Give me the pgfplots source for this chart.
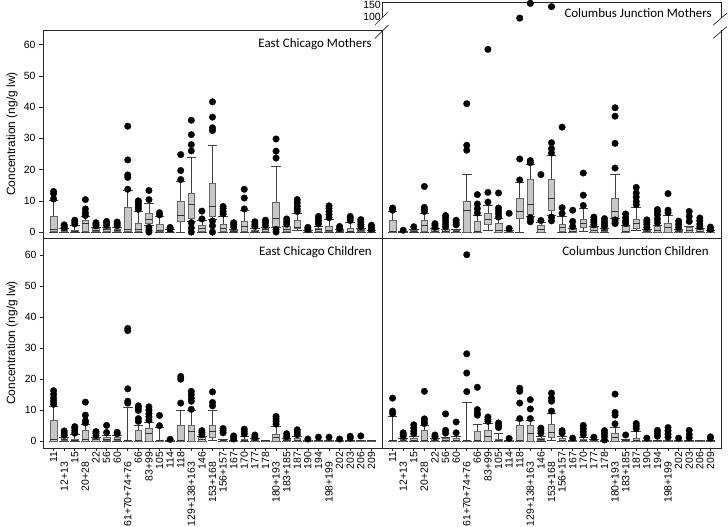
\documentclass[border=0pt]{standalone}
\usepackage{pgfplots}
\pgfplotsset{compat=1.18}
\usepgfplotslibrary{statistics}
\usepackage{fontspec}
\setmainfont{Liberation Sans}
\newfontfamily\calibri{Carlito}

\newcommand{\bx}[7]{\addplot[bstyle, boxplot prepared={draw direction=y, draw position=#1, lower whisker=#2, lower quartile=#3, median=#4, upper quartile=#5, upper whisker=#6, box extend=0.62, whisker extend=0.9, every box/.style={draw=black!60, fill=black!22}, every median/.style={draw=black!80}, every whisker/.style={draw=black!75}}] table[row sep=\\, y index=0] {d\\ #7};}
\newcommand{\bxn}[6]{\addplot[bstyle, boxplot prepared={draw direction=y, draw position=#1, lower whisker=#2, lower quartile=#3, median=#4, upper quartile=#5, upper whisker=#6, box extend=0.62, whisker extend=0.9, every box/.style={draw=black!60, fill=black!22}, every median/.style={draw=black!80}, every whisker/.style={draw=black!75}}] coordinates {};}

\tikzset{ttl/.style={anchor=north east, font=\calibri\fontsize{13}{15}\selectfont, inner sep=0pt}}
\pgfplotsset{
 bstyle/.style={line width=0.6pt, draw=black!75, mark=*, mark size=3.3bp,
   mark options={fill=black, draw=black, line width=0.3pt, solid}},
 panel/.style={scale only axis, width=339bp, xmin=-1, xmax=31, anchor=south west,
   axis line style={draw=black!85, line width=0.7pt},
   tick style={draw=black!85, line width=0.6pt}, tick align=outside,
   major tick length=4bp, ytick pos=left, xtick pos=bottom,
   every tick label/.append style={font=\fontsize{10.5}{12}\selectfont},
   /pgf/number format/assume math mode=true, clip=false},
 ylab/.style={ylabel={Concentration (ng/g lw)},
   ylabel style={font=\fontsize{12}{14}\selectfont, at={(axis description cs:-0.0914,0.5)}, anchor=center}},
 xlabs/.style={xtick={0,...,30}, major tick length=3bp,
   xticklabels={11, 12+13\hspace*{10bp}, 15, 20+28\hspace*{10bp}, 22, 56, 60, 61+70+74+76\hspace*{10bp}, 66, 83+99, 105, 114, 118, 129+138+163\hspace*{10bp}, 146, 153+168\hspace*{10bp}, 156+157, 167, 170, 177, 178, 180+193\hspace*{10bp}, 183+185, 187, 190, 194, 198+199\hspace*{10bp}, 202, 203, 206, 209},
   xticklabel style={rotate=90, anchor=east, inner sep=0.5bp}},
}

\begin{document}
\begin{tikzpicture}
\useasboundingbox (0,0) rectangle (728bp,527bp);

% ---------------- East Chicago Mothers ----------------
\begin{axis}[panel, ylab, at={(43bp,289bp)}, height=208bp, ymin=-1.9, ymax=64.7,
  ytick={0,10,...,60}, xtick=\empty]
\bx{0}{0}{0.2}{0.8}{5.2}{10.2}{10.6\\ 12.3\\ 13.0\\}
\bx{1}{0}{0.3}{0.6}{1.0}{1.2}{1.5\\ 2.0\\ 2.3\\}
\bx{2}{0}{0.2}{0.4}{0.6}{2.2}{2.6\\ 3.2\\ 3.8\\}
\bx{3}{0}{0.3}{2.8}{3.8}{4.9}{5.3\\ 6.2\\ 7.4\\ 10.4\\}
\bx{4}{0}{0.1}{0.6}{1.1}{1.5}{2.0\\ 2.5\\ 3.0\\}
\bx{5}{0}{0.2}{0.8}{1.3}{1.6}{2.2\\ 2.8\\ 3.4\\}
\bx{6}{0}{0.1}{0.5}{0.9}{1.5}{2.0\\ 2.6\\ 3.2\\}
\bx{7}{0}{0.3}{0.8}{8.0}{13.3}{13.7\\ 17.5\\ 18.3\\ 23.1\\ 33.9\\}
\bx{8}{0}{0.2}{0.8}{2.9}{6.8}{7.3\\ 8.0\\ 8.8\\ 9.6\\ 10.0\\}
\bx{9}{2.2}{2.8}{4.0}{6.0}{9.3}{10.4\\ 13.3\\ 1.5\\ 0.6\\ 0\\}
\bx{10}{0}{0.1}{0.5}{2.5}{5.1}{5.5\\ 6.2\\}
\bx{11}{0}{0.1}{0.2}{0.3}{0.8}{1.0\\ 1.5\\}
\bx{12}{0}{3.5}{5.5}{9.7}{16.2}{16.8\\ 19.7\\ 24.8\\}
\bx{13}{3.6}{4.3}{8.9}{12.4}{24.0}{26.0\\ 28.0\\ 31.2\\ 35.8\\ 3.0\\ 1.3\\ 0\\}
\bx{14}{0}{0.4}{1.1}{2.1}{3.7}{4.2\\ 6.7\\}
\bx{15}{4.0}{5.2}{8.2}{15.5}{27.8}{32.5\\ 33.4\\ 36.8\\ 41.7\\ 3.5\\ 2.0\\ 0\\}
\bx{16}{0}{0.1}{1.2}{2.6}{5.0}{5.8\\ 6.6\\ 7.5\\ 8.2\\}
\bx{17}{0}{0.1}{0.3}{0.6}{1.0}{1.6\\ 2.4\\ 3.0\\}
\bx{18}{0}{0.1}{1.9}{3.6}{7.0}{7.4\\ 10.9\\ 13.7\\}
\bx{19}{0}{0.1}{0.3}{0.6}{1.2}{1.8\\ 2.5\\ 3.3\\}
\bx{20}{0}{0.3}{0.8}{1.3}{1.6}{2.2\\ 3.0\\ 3.8\\}
\bx{21}{1.4}{1.9}{4.4}{9.4}{21.2}{23.7\\ 25.9\\ 29.8\\ 0.8\\ 0\\}
\bx{22}{0}{0.1}{0.9}{1.7}{2.0}{2.5\\ 3.3\\ 4.2\\}
\bx{23}{0.5}{1.1}{1.5}{3.9}{6.1}{6.6\\ 7.4\\ 8.3\\ 9.4\\ 10.4\\}
\bx{24}{0}{0.1}{0.3}{0.5}{0.6}{0.9\\ 1.5\\}
\bx{25}{0}{0.3}{0.8}{1.3}{2.0}{2.6\\ 3.4\\ 4.2\\ 5.0\\}
\bx{26}{0}{0.1}{0.6}{2.0}{4.2}{4.6\\ 5.6\\ 6.6\\ 7.6\\ 8.4\\}
\bx{27}{0}{0.1}{0.3}{0.5}{0.8}{1.2\\ 1.8\\}
\bx{28}{0}{0.1}{0.4}{1.3}{3.1}{3.7\\ 4.4\\ 5.0\\}
\bx{29}{0}{0.2}{0.6}{1.0}{1.3}{1.8\\ 2.5\\ 3.3\\ 4.0\\}
\bx{30}{0}{0.1}{0.3}{0.5}{0.6}{0.9\\ 1.5\\ 2.2\\}
\node[ttl] at ([xshift=-10bp,yshift=-8bp]rel axis cs:1,1) {East Chicago Mothers};
\end{axis}

% ---------------- Columbus Junction Mothers (lower part) ----------------
\begin{axis}[panel, at={(382bp,289bp)}, height=208bp, ymin=-1.9, ymax=64.7,
  ytick=\empty, xtick=\empty, axis line style={draw=none}]
\bx{0}{0}{0}{0.4}{3.7}{6.6}{7.0\\ 7.7\\}
\bx{1}{0}{0}{0.1}{0.2}{0.3}{0.6\\}
\bx{2}{0}{0.1}{0.3}{0.6}{1.0}{1.7\\}
\bx{3}{0}{0.2}{2.1}{3.8}{6.1}{6.6\\ 7.2\\ 7.9\\ 14.6\\}
\bx{4}{0}{0}{0.3}{0.9}{1.1}{1.5\\ 2.2\\ 2.7\\}
\bx{5}{0}{0}{0.3}{0.8}{1.0}{1.6\\ 2.5\\ 3.5\\ 4.5\\ 5.3\\}
\bx{6}{0}{0}{0.3}{0.7}{1.0}{2.3\\ 3.0\\ 3.8\\}
\bx{7}{0}{0}{7.0}{9.8}{18.4}{26.2\\ 27.8\\ 41.1\\}
\bx{8}{0}{0}{0.4}{3.5}{5.3}{6.1\\ 7.5\\ 9.0\\ 12.0\\}
\bx{9}{0.5}{2.5}{4.2}{6.1}{8.7}{9.6\\ 12.7\\ 58.5\\}
\bx{10}{0}{0}{0.5}{2.8}{4.3}{4.8\\ 5.9\\ 6.8\\ 7.7\\ 12.5\\}
\bx{11}{0}{0}{0.1}{0.3}{0.7}{1.2\\ 6.0\\}
\bx{12}{0}{4.5}{6.5}{10.8}{15.8}{16.7\\ 23.4\\}
\bx{13}{5.0}{5.6}{8.8}{16.8}{21.6}{22.2\\ 22.9\\ 4.6\\ 3.9\\ 3.3\\}
\bx{14}{0}{0}{1.0}{2.3}{3.2}{3.7\\ 18.4\\}
\bx{15}{5.5}{7.0}{10.9}{17.0}{24.7}{25.3\\ 26.7\\ 28.6\\ 4.8\\ 3.6\\}
\bx{16}{0}{0.3}{1.5}{2.6}{4.9}{6.0\\ 7.8\\ 33.6\\}
\bx{17}{0}{0}{0.3}{0.8}{1.2}{1.8\\ 3.4\\ 7.0\\}
\bx{18}{0.3}{1.6}{2.7}{4.0}{7.6}{8.5\\ 11.8\\ 18.9\\}
\bx{19}{0}{0}{0.5}{1.5}{1.8}{2.3\\ 3.2\\ 4.0\\ 4.8\\}
\bx{20}{0}{0.2}{0.5}{1.0}{1.3}{1.8\\ 2.6\\ 3.4\\ 4.3\\}
\bx{21}{4.5}{4.7}{6.5}{10.9}{18.4}{20.5\\ 28.4\\ 37.1\\ 39.8\\ 3.9\\ 3.2\\ 2.7\\}
\bx{22}{0}{0}{0.4}{1.9}{2.2}{2.8\\ 3.6\\ 4.6\\ 5.8\\}
\bx{23}{0.5}{1.3}{2.8}{4.2}{8.0}{8.8\\ 9.8\\ 11.2\\ 12.5\\ 14.3\\}
\bx{24}{0}{0}{0.2}{0.5}{0.8}{1.5\\ 2.4\\ 3.2\\ 3.9\\}
\bx{25}{0}{0}{0.5}{1.9}{2.2}{3.0\\ 4.2\\ 5.5\\ 6.5\\ 7.2\\}
\bx{26}{0}{0}{1.5}{2.8}{5.4}{6.2\\ 7.0\\ 12.3\\}
\bx{27}{0}{0}{0.2}{0.5}{0.8}{1.5\\ 2.5\\ 3.5\\}
\bx{28}{0}{0}{0.6}{1.5}{1.9}{3.4\\ 5.0\\ 6.6\\}
\bx{29}{0}{0}{0.3}{0.8}{1.1}{1.7\\ 2.6\\ 3.6\\ 4.5\\}
\bx{30}{0}{0}{0.2}{0.4}{0.5}{0.9\\ 1.6\\}
\draw[black!85, line width=0.7pt] (rel axis cs:0,1) -- (rel axis cs:0,0) -- (rel axis cs:1,0) -- (rel axis cs:1,1);
\end{axis}

% ---------------- Columbus Junction Mothers (upper part, broken axis) ----------------
\begin{axis}[panel, at={(382bp,509bp)}, height=16bp, ymin=94.4, ymax=162.8,
  ytick={100,150}, xtick=\empty, axis line style={draw=none}, major tick length=0pt,
  yticklabel style={inner sep=1bp}]
\addplot[only marks, mark=*, mark size=3.3bp, mark options={fill=black, draw=black}] coordinates {(12,94) (13,157) (15,143)};
\draw[black!85, line width=0.7pt] (rel axis cs:0,0) -- (rel axis cs:0,1) -- (rel axis cs:1,1) -- (rel axis cs:1,0);
\node[ttl] at ([xshift=-9bp,yshift=-6bp]rel axis cs:1,1) {Columbus Junction Mothers};
\end{axis}

% ---------------- East Chicago Children ----------------
\begin{axis}[panel, ylab, xlabs, at={(43bp,79bp)}, height=210bp, ymin=-2.3, ymax=65.5,
  ytick={0,10,...,60}]
\bx{0}{0}{0}{0.5}{6.8}{11.1}{11.8\\ 12.8\\ 13.8\\ 15.0\\ 16.2\\}
\bx{1}{0}{0.2}{0.6}{1.1}{1.3}{1.8\\ 2.5\\ 3.2\\}
\bx{2}{0}{0.1}{0.3}{0.6}{2.0}{2.5\\ 3.3\\ 4.1\\ 4.6\\}
\bx{3}{0}{0}{0.6}{3.5}{5.2}{5.8\\ 6.5\\ 8.3\\ 12.5\\}
\bx{4}{0}{0}{0.4}{0.9}{1.2}{1.8\\ 2.5\\ 3.0\\}
\bx{5}{0}{0.2}{0.5}{1.0}{1.9}{2.7\\ 5.0\\}
\bx{6}{0}{0.2}{0.6}{1.0}{1.8}{2.3\\ 2.8\\}
\bx{7}{0}{0}{0.1}{0.3}{10.8}{12.2\\ 12.8\\ 16.8\\ 35.6\\ 36.3\\}
\bx{8}{0}{0}{0.3}{3.3}{5.1}{6.3\\ 7.2\\ 9.8\\ 10.6\\ 11.3\\}
\bx{9}{0}{0}{2.5}{4.0}{6.1}{6.7\\ 7.8\\ 8.8\\ 9.9\\ 11.0\\}
\bx{10}{0}{0}{0.1}{0.3}{4.4}{4.9\\ 8.2\\}
\bx{11}{0}{0}{0}{0.1}{0.1}{0.5\\}
\bx{12}{0}{0}{0.3}{5.1}{10.0}{12.2\\ 19.9\\ 20.8\\}
\bx{13}{0}{0}{3.2}{5.1}{10.0}{10.2\\ 12.8\\ 13.8\\ 14.9\\ 16.0\\}
\bx{14}{0}{0}{0.5}{1.3}{1.5}{2.0\\ 2.7\\ 3.3\\}
\bx{15}{0.2}{1.1}{3.0}{5.1}{10.0}{11.3\\ 12.4\\ 15.8\\}
\bx{16}{0}{0}{0.1}{0.3}{0.5}{2.6\\ 3.3\\ 4.0\\}
\bx{17}{0}{0}{0.1}{0.2}{0.3}{0.6\\ 1.1\\ 1.6\\}
\bx{18}{0}{0.1}{0.3}{0.6}{1.4}{2.2\\ 3.0\\ 3.8\\}
\bx{19}{0}{0}{0.2}{0.5}{0.8}{1.2\\ 1.9\\}
\bxn{20}{0}{0}{0.05}{0.1}{0.2}
\bx{21}{0}{0}{1.1}{2.1}{4.7}{5.4\\ 6.3\\ 7.1\\ 7.9\\}
\bx{22}{0}{0}{0.3}{0.6}{0.9}{1.4\\ 2.3\\}
\bx{23}{0}{0}{0.3}{0.8}{1.4}{2.0\\ 2.8\\ 3.6\\}
\bx{24}{0}{0}{0.1}{0.2}{0.3}{0.6\\}
\bx{25}{0}{0}{0.1}{0.2}{0.3}{1.2\\}
\bx{26}{0}{0}{0.1}{0.2}{0.3}{1.2\\}
\bx{27}{0}{0}{0.1}{0.2}{0.3}{0.6\\}
\bx{28}{0}{0}{0.1}{0.2}{0.3}{0.9\\ 1.5\\}
\bx{29}{0}{0}{0.1}{0.2}{0.3}{1.6\\}
\bxn{30}{0}{0}{0.05}{0.1}{0.2}
\node[ttl] at ([xshift=-10bp,yshift=-8bp]rel axis cs:1,1) {East Chicago Children};
\end{axis}

% ---------------- Columbus Junction Children ----------------
\begin{axis}[panel, xlabs, at={(382bp,79bp)}, height=210bp, ymin=-2.3, ymax=65.5,
  ytick=\empty]
\bx{0}{0}{0}{0.1}{0.3}{8.0}{8.8\\ 9.6\\ 13.8\\}
\bx{1}{0}{0}{0.3}{0.6}{0.8}{1.5\\ 2.1\\ 2.6\\}
\bx{2}{0}{0.1}{0.3}{0.8}{1.6}{2.3\\ 3.2\\ 4.2\\ 5.2\\}
\bx{3}{0}{0}{0.3}{3.5}{4.9}{5.6\\ 6.3\\ 7.1\\ 16.0\\}
\bx{4}{0}{0}{0.2}{0.7}{0.9}{1.3\\ 1.9\\}
\bx{5}{0}{0}{0.3}{0.8}{1.2}{2.5\\ 3.4\\ 8.7\\}
\bx{6}{0}{0}{0.3}{0.8}{1.6}{2.6\\ 6.1\\}
\bx{7}{0}{0}{0.1}{0.3}{12.5}{15.9\\ 21.9\\ 28.1\\ 60.1\\}
\bx{8}{0}{0}{0.3}{3.0}{5.4}{8.3\\ 9.0\\ 10.1\\ 17.3\\}
\bx{9}{0}{0}{1.6}{3.5}{5.8}{6.3\\ 6.9\\ 7.7\\}
\bx{10}{0}{0}{0.2}{0.5}{2.3}{4.3\\ 5.0\\ 5.8\\}
\bx{11}{0}{0}{0.05}{0.1}{0.2}{0.8\\}
\bx{12}{0}{0}{0.3}{5.1}{6.5}{7.2\\ 12.2\\ 16.0\\ 17.0\\}
\bx{13}{0}{0}{2.5}{5.1}{6.6}{7.2\\ 10.3\\ 13.3\\}
\bx{14}{0}{0.2}{0.5}{0.8}{1.6}{2.5\\ 3.3\\ 4.1\\}
\bx{15}{0.3}{1.2}{2.9}{5.4}{9.0}{9.6\\ 12.8\\ 13.8\\ 15.4\\}
\bx{16}{0}{0}{0.3}{0.7}{1.6}{2.5\\ 3.3\\}
\bx{17}{0}{0}{0.05}{0.1}{0.2}{0.9\\}
\bx{18}{0}{0}{0.2}{0.5}{1.2}{2.0\\ 3.0\\ 4.0\\ 5.0\\}
\bx{19}{0}{0}{0.1}{0.3}{0.5}{1.2\\}
\bx{20}{0}{0}{0.1}{0.2}{0.3}{0.3\\ 1.5\\ 2.4\\ 3.3\\}
\bx{21}{0}{0}{1.2}{2.5}{4.4}{5.5\\ 8.3\\ 9.2\\ 15.1\\}
\bx{22}{0}{0}{0.1}{0.3}{0.5}{1.9\\}
\bx{23}{0}{0}{0.3}{0.9}{3.1}{3.9\\ 4.8\\ 5.6\\}
\bx{24}{0}{0}{0.05}{0.1}{0.2}{0.9\\}
\bx{25}{0}{0}{0.1}{0.2}{0.3}{1.5\\ 2.5\\ 3.4\\}
\bx{26}{0}{0}{0.1}{0.2}{0.3}{1.2\\ 2.2\\ 3.3\\ 4.3\\}
\bx{27}{0}{0}{0.05}{0.1}{0.2}{0.9\\}
\bx{28}{0}{0}{0.1}{0.2}{0.3}{1.0\\ 2.0\\ 3.4\\}
\bxn{29}{0}{0}{0.05}{0.1}{0.2}
\bx{30}{0}{0}{0.05}{0.1}{0.2}{0.9\\ 1.3\\}
\node[ttl] at ([xshift=-12bp,yshift=-8bp]rel axis cs:1,1) {Columbus Junction Children};
\end{axis}

% break marks
\draw[black!85, line width=0.7pt] (375bp,502bp) -- (388.3bp,515.3bp);
\draw[black!85, line width=0.7pt] (375bp,488.7bp) -- (388.3bp,502bp);
\draw[black!85, line width=0.7pt] (713.3bp,502bp) -- (726.7bp,513.7bp);
\draw[black!85, line width=0.7pt] (713.3bp,488.7bp) -- (726.7bp,500.3bp);
\end{tikzpicture}
\end{document}
